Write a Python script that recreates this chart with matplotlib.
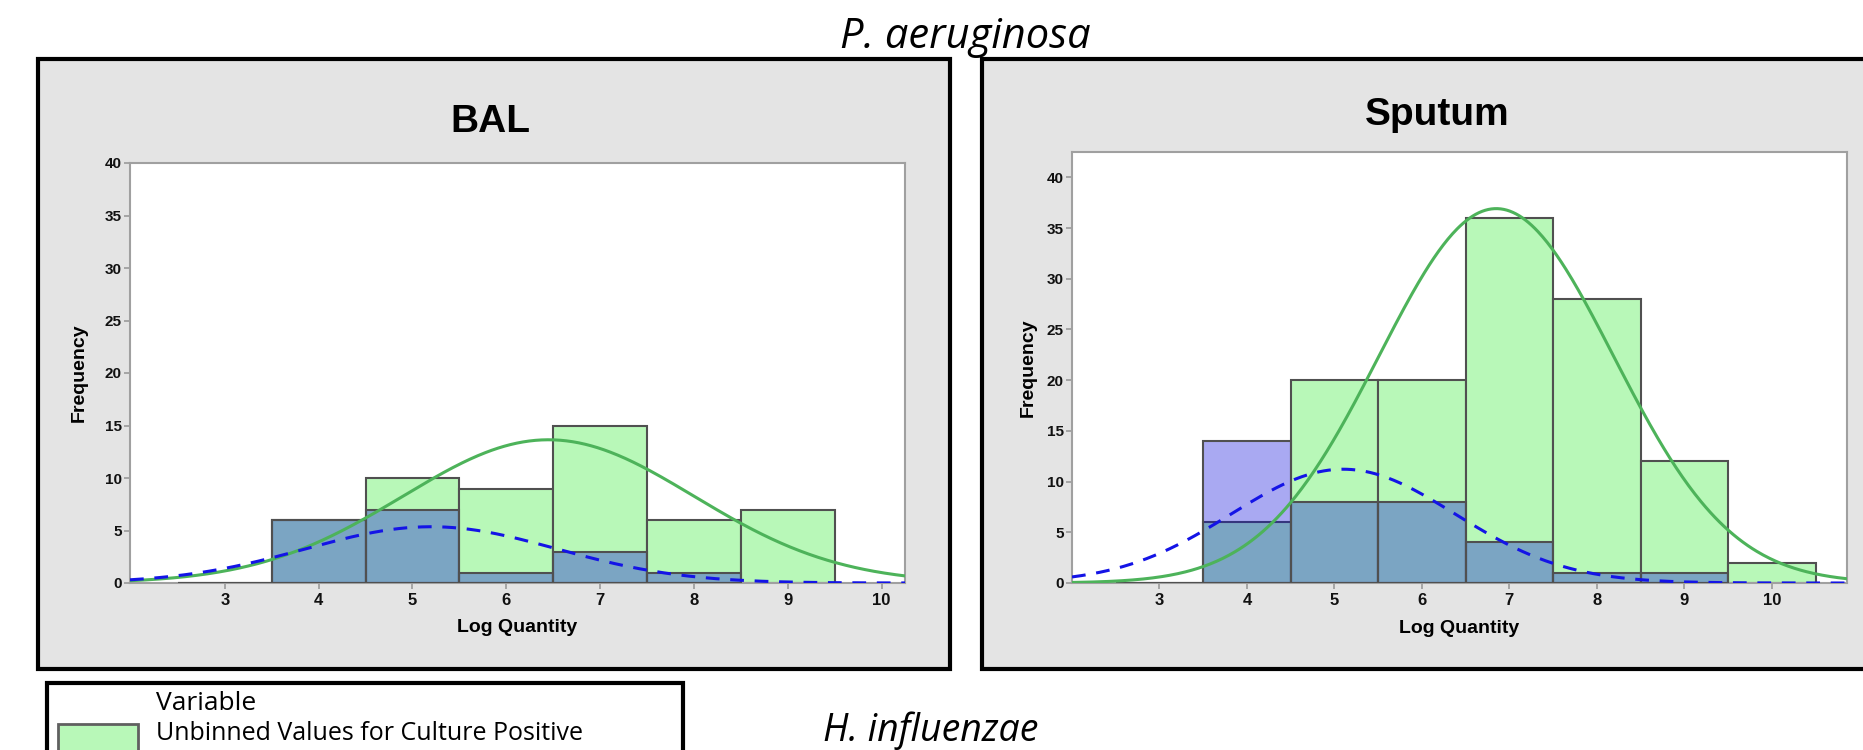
import numpy as np
import matplotlib
matplotlib.use("Agg")
import matplotlib.pyplot as plt
from matplotlib.patches import Rectangle

# ---------------- data ----------------
bins_bal_pos = [3, 4, 5, 6, 7, 8, 9]
counts_bal_pos = [0, 6, 10, 9, 15, 6, 7]
bins_bal_neg = [3, 4, 5, 6, 7, 8]
counts_bal_neg = [0, 6, 7, 1, 3, 1]

bins_spu_pos = [3, 4, 5, 6, 7, 8, 9, 10]
counts_spu_pos = [0, 6, 20, 20, 36, 28, 12, 2]
bins_spu_neg = [3, 4, 5, 6, 7, 8, 9]
counts_spu_neg = [0, 14, 8, 8, 4, 1, 1]

# normal fits (mean, sd, N)
fit_bal_pos = (6.45, 1.55, 53)
fit_bal_neg = (5.2, 1.34, 18)
fit_spu_pos = (6.85, 1.34, 124)
fit_spu_neg = (5.1, 1.28, 36)

xticks = [3, 4, 5, 6, 7, 8, 9, 10]
yticks = [0, 5, 10, 15, 20, 25, 30, 35, 40]
panel_titles = ["BAL", "Sputum"]
main_title = "P. aeruginosa"
next_title = "H. influenzae"
legend_title = "Variable"
legend_label = "Unbinned Values for Culture Positive"

# ---------------- style ----------------
GREEN = "#B8F8B8"
BLUE_A = (0.02, 0.02, 0.85, 0.34)
EDGE = "#505050"
CURVE_G = "#4DB35A"
CURVE_B = "#1414E6"
PANEL_BG = "#E4E4E4"
FRAME = "#A0A0A0"

plt.rcParams["font.family"] = ["Liberation Sans", "DejaVu Sans"]

W, H = 1863, 750
fig = plt.figure(figsize=(W / 100, H / 100), dpi=100)
fig.patch.set_facecolor("white")


def fx(p):
    return p / W


def fy(p):
    return 1 - p / H


def box(x0, y0, x1, y1, **kw):
    r = Rectangle((fx(x0), fy(y1)), fx(x1) - fx(x0), (y1 - y0) / H,
                  transform=fig.transFigure, **kw)
    fig.add_artist(r)
    return r


# panel backgrounds
box(38, 59, 950, 669, facecolor=PANEL_BG, edgecolor="black", lw=3, zorder=-2)
box(982, 59, 1895, 669, facecolor=PANEL_BG, edgecolor="black", lw=3, zorder=-2)


def make_panel(rect_px, xlim, ylim, bins_p, cnt_p, bins_n, cnt_n, fit_p, fit_n,
               ylab_x):
    x0, y0, x1, y1 = rect_px
    ax = fig.add_axes([fx(x0), fy(y1), fx(x1) - fx(x0), (y1 - y0) / H])
    ax.set_facecolor("white")
    ax.bar(bins_p, cnt_p, width=1.0, color=GREEN, edgecolor=EDGE, lw=1.5,
           zorder=2)
    ax.bar(bins_n, cnt_n, width=1.0, color=BLUE_A, edgecolor=EDGE, lw=1.5,
           zorder=3)
    xs = np.linspace(xlim[0], xlim[1], 500)
    for (m, s, n), col, dash, z in [(fit_p, CURVE_G, None, 4),
                                     (fit_n, CURVE_B, (4.5, 3.5), 5)]:
        ys = n / (s * np.sqrt(2 * np.pi)) * np.exp(-0.5 * ((xs - m) / s) ** 2)
        ln, = ax.plot(xs, ys, color=col, lw=2.2, zorder=z)
        if dash:
            ln.set_dashes(dash)
    ax.set_xlim(*xlim)
    ax.set_ylim(*ylim)
    ax.set_xticks(xticks, [str(t) for t in xticks], fontweight="bold",
                  fontsize=12)
    ax.set_yticks(yticks, [str(t) for t in yticks], fontweight="bold",
                  fontsize=11)
    ax.tick_params(direction="out", length=4, width=1.3, color=FRAME,
                   labelcolor="#111111", pad=2)
    ax.tick_params(axis="x", pad=3)
    for sp in ax.spines.values():
        sp.set_color(FRAME)
        sp.set_linewidth(1.5)
    ax.set_ylabel("Frequency", fontsize=14, fontweight="bold")
    ax.yaxis.set_label_coords(ylab_x, 0.5)
    ax.set_xlabel("Log Quantity", fontsize=14, fontweight="bold")
    ax.xaxis.set_label_coords(0.5, -0.085)
    return ax


make_panel((130, 163, 905, 583), (1.99, 10.25), (0, 40),
           bins_bal_pos, counts_bal_pos, bins_bal_neg, counts_bal_neg,
           fit_bal_pos, fit_bal_neg, -0.055)
make_panel((1072, 152, 1847, 583), (2.0, 10.86), (0, 42.5),
           bins_spu_pos, counts_spu_pos, bins_spu_neg, counts_spu_neg,
           fit_spu_pos, fit_spu_neg, -0.046)

# panel titles
fig.text(fx(490), fy(132), panel_titles[0], ha="center", va="baseline",
         fontsize=28, fontweight="bold")
fig.text(fx(1437), fy(125), panel_titles[1], ha="center", va="baseline",
         fontsize=28, fontweight="bold")

# slide titles
fig.text(fx(965), fy(48), main_title, ha="center", va="baseline",
         fontsize=30, style="italic", family=["Open Sans", "DejaVu Sans"])
fig.text(fx(823), fy(741), next_title, ha="left", va="baseline",
         fontsize=27, style="italic", family=["Open Sans", "DejaVu Sans"])

# legend box (extends past the bottom edge, as in the slide)
box(47, 683, 683, 820, facecolor="white", edgecolor="black", lw=3, zorder=1)
box(58, 724, 138, 752, facecolor=GREEN, edgecolor="#606060", lw=2, zorder=2)
fig.text(fx(156), fy(710), legend_title, ha="left", va="baseline",
         fontsize=19, family=["Open Sans", "DejaVu Sans"], zorder=3)
fig.text(fx(156), fy(740), legend_label, ha="left", va="baseline",
         fontsize=18, family=["Open Sans", "DejaVu Sans"], zorder=3)

fig.savefig("out.png", dpi=100, facecolor="white")
